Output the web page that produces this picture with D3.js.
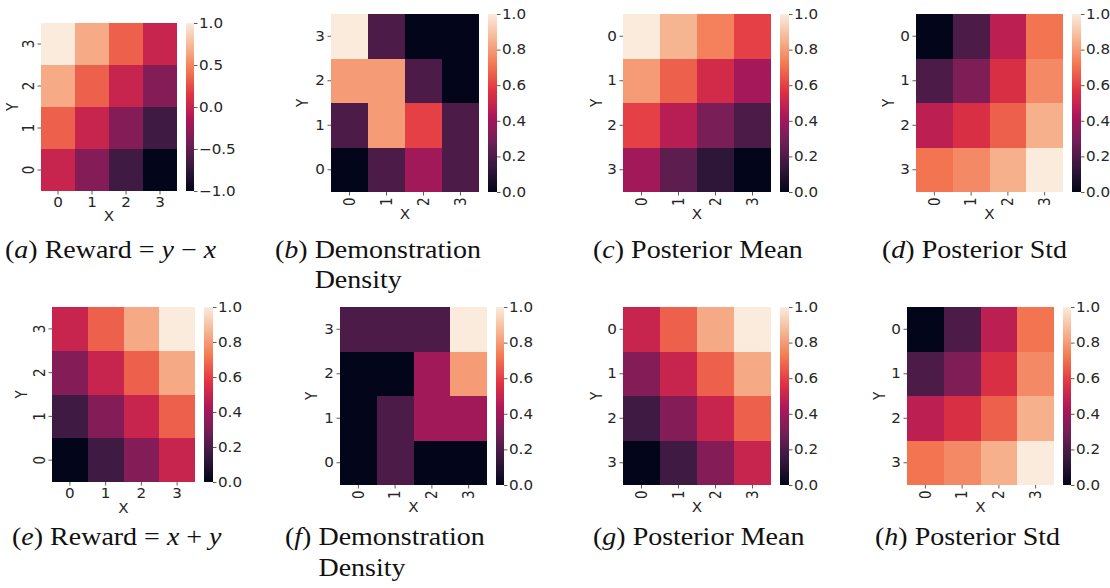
<!DOCTYPE html>
<html><head><meta charset="utf-8">
<script src="https://cdn.jsdelivr.net/npm/d3@7"></script>
<style>
html,body{margin:0;padding:0;background:#fff;}
svg{display:block;}
.tick text{font-family:"DejaVu Sans",sans-serif;font-size:13.5px;fill:#262626;}
.axlab{font-family:"DejaVu Sans",sans-serif;font-size:13.5px;fill:#262626;}
.cap{font-family:"Liberation Serif",serif;font-size:25px;fill:#111;}
</style></head>
<body><svg id="chart" width="1110" height="588"></svg>
<script>
// ---------- data ----------
const xLabels = ["0","1","2","3"];
const rowsUp = ["3","2","1","0"];     // Y labels top->bottom (3 at top)
const rowsDown = ["0","1","2","3"];   // Y labels top->bottom (0 at top)
const ticksSigned = [-1,-0.5,0,0.5,1];
const ticksUnit = [0,0.2,0.4,0.6,0.8,1.0];

// rows listed top -> bottom as displayed
const rewardYminusX = [
  [1.0, 0.667, 0.333, 0.0],
  [0.667, 0.333, 0.0, -0.333],
  [0.333, 0.0, -0.333, -0.667],
  [0.0, -0.333, -0.667, -1.0]
];
const demoDensityB = [
  [1.0, 0.2, 0.0, 0.0],
  [0.8, 0.8, 0.2, 0.0],
  [0.2, 0.8, 0.6, 0.2],
  [0.0, 0.2, 0.4, 0.2]
];
const postMeanC = [
  [1.0, 0.86, 0.74, 0.6],
  [0.8, 0.67, 0.53, 0.41],
  [0.6, 0.46, 0.31, 0.2],
  [0.4, 0.24, 0.12, 0.0]
];
const postStdD = [
  [0.0, 0.2, 0.47, 0.71],
  [0.2, 0.32, 0.55, 0.76],
  [0.47, 0.55, 0.67, 0.85],
  [0.71, 0.76, 0.85, 1.0]
];
const rewardXplusY = [
  [0.5, 0.667, 0.833, 1.0],
  [0.333, 0.5, 0.667, 0.833],
  [0.167, 0.333, 0.5, 0.667],
  [0.0, 0.167, 0.333, 0.5]
];
const demoDensityF = [
  [0.2, 0.2, 0.2, 1.0],
  [0.0, 0.0, 0.4, 0.8],
  [0.0, 0.2, 0.4, 0.4],
  [0.0, 0.2, 0.0, 0.0]
];
const postMeanG = [
  [0.5, 0.667, 0.833, 1.0],
  [0.333, 0.5, 0.667, 0.833],
  [0.167, 0.333, 0.5, 0.667],
  [0.0, 0.167, 0.333, 0.5]
];
const postStdH = [
  [0.0, 0.2, 0.47, 0.71],
  [0.2, 0.32, 0.55, 0.76],
  [0.47, 0.55, 0.67, 0.85],
  [0.71, 0.76, 0.85, 1.0]
];

// rocket colormap stops
const rocketStops = ["#03051a","#35193e","#701f57","#ad1759","#e13342","#f37651","#f6b48f","#faebdd"];

// captions: [text, italic?] parts
const captions = [
  {line1:[["(",0],["a",1],[") Reward = ",0],["y",1],[" − ",0],["x",1]]},
  {line1:[["(",0],["b",1],[") ",0],["Demonstration",0]], line2:"Density"},
  {line1:[["(",0],["c",1],[") Posterior Mean",0]]},
  {line1:[["(",0],["d",1],[") Posterior Std",0]]},
  {line1:[["(",0],["e",1],[") Reward = ",0],["x",1],[" + ",0],["y",1]]},
  {line1:[["(",0],["f",1],[") ",0],["Demonstration",0]], line2:"Density"},
  {line1:[["(",0],["g",1],[") Posterior Mean",0]]},
  {line1:[["(",0],["h",1],[") Posterior Std",0]]}
];

// ---------- layout ----------
const SX = 1.12; // horizontal text stretch seen in the reference
const panels = [
  {data:rewardYminusX, rows:rowsUp, dom:[-1,1], ticks:ticksSigned, style:"A",
   hm:[41,177,23,191], cb:[186,194], ylab:-28, xlab:25, cap:[5,258,288]},
  {data:demoDensityB, rows:rowsUp, dom:[0,1], ticks:ticksUnit, style:"B",
   hm:[331,479,14,192], cb:[488,497], ylab:-28, xlab:22, cap:[275,258,288]},
  {data:postMeanC, rows:rowsDown, dom:[0,1], ticks:ticksUnit, style:"B",
   hm:[623,771,14,192], cb:[780,789], ylab:-26, xlab:22, cap:[593,258]},
  {data:postStdD, rows:rowsDown, dom:[0,1], ticks:ticksUnit, style:"B",
   hm:[916,1063,14,192], cb:[1072,1081], ylab:-27, xlab:22, cap:[882,258]},
  {data:rewardXplusY, rows:rowsUp, dom:[0,1], ticks:ticksUnit, style:"A",
   hm:[52,195,307,482], cb:[204,213], ylab:-30, xlab:26, cap:[12,545]},
  {data:demoDensityF, rows:rowsUp, dom:[0,1], ticks:ticksUnit, style:"B",
   hm:[340,487,307,485], cb:[496,504], ylab:-28, xlab:22, cap:[285,545,576]},
  {data:postMeanG, rows:rowsDown, dom:[0,1], ticks:ticksUnit, style:"B",
   hm:[623,771,307,485], cb:[780,789], ylab:-26, xlab:22, cap:[593,545]},
  {data:postStdH, rows:rowsDown, dom:[0,1], ticks:ticksUnit, style:"B",
   hm:[907,1054,307,485], cb:[1063,1071], ylab:-27, xlab:22, cap:[875,545]}
];

const svg = d3.select("#chart");
const defs = svg.append("defs");

function cmapFor(dom){
  const n = rocketStops.length;
  return d3.scaleLinear()
    .domain(d3.range(n).map(i => dom[0] + (dom[1]-dom[0])*i/(n-1)))
    .range(rocketStops).interpolate(d3.interpolateRgb).clamp(true);
}

const grad = defs.append("linearGradient").attr("id","rocketGrad")
  .attr("x1",0).attr("y1",1).attr("x2",0).attr("y2",0);
rocketStops.forEach((c,i)=>grad.append("stop").attr("offset", i/(rocketStops.length-1)).attr("stop-color", c));

const tickColor = "#333";

// move a text's x into a transform with a horizontal stretch
function stretchX(sel, extra){
  sel.each(function(){
    const t = d3.select(this);
    const x = +(t.attr("x") || 0);
    t.attr("x", null).attr("transform", `translate(${x},0) scale(${SX},1)` + (extra || ""));
  });
}

panels.forEach((p, idx) => {
  const [x0,x1,y0,y1] = p.hm;
  const g = svg.append("g");
  const color = cmapFor(p.dom);
  const xs = d3.scaleBand().domain(xLabels).range([x0,x1]);
  const ys = d3.scaleBand().domain(p.rows).range([y0,y1]);
  const cells = [];
  p.data.forEach((row, ri) => row.forEach((v, ci) => cells.push({r:p.rows[ri], c:xLabels[ci], v})));
  g.selectAll("rect.cell").data(cells).join("rect").attr("class","cell")
    .attr("x", d => xs(d.c)).attr("y", d => ys(d.r))
    .attr("width", xs.bandwidth()+0.3).attr("height", ys.bandwidth()+0.3)
    .attr("fill", d => color(d.v)).attr("shape-rendering","crispEdges");

  const gx = g.append("g").attr("transform", `translate(0,${y1})`)
    .call(d3.axisBottom(xs).tickSize(3.5).tickPadding(2.5));
  const gy = g.append("g").attr("transform", `translate(${x0},0)`)
    .call(d3.axisLeft(ys).tickSize(3.5).tickPadding(2.5));
  [gx, gy].forEach(a => { a.select(".domain").remove(); a.selectAll("line").attr("stroke", tickColor).attr("stroke-width",0.8); a.attr("font-family",null).attr("font-size",null); });

  if (p.style === "A") {
    gy.selectAll("text").attr("x",null).attr("dy","0.35em").attr("text-anchor","middle")
      .attr("transform",`translate(-12,0) scale(${SX},1) rotate(-90)`);
    stretchX(gx.selectAll("text"));
  } else {
    gx.selectAll("text").attr("y",null).attr("dy","0.35em").attr("text-anchor","end")
      .attr("transform",`translate(0,5.5) scale(${SX},1) rotate(-90)`);
    stretchX(gy.selectAll("text"));
  }

  g.append("text").attr("class","axlab")
    .attr("transform",`translate(${(x0+x1)/2},${y1 + p.xlab}) scale(${SX},1)`)
    .attr("dy","0.35em").attr("text-anchor","middle").text("X");
  g.append("text").attr("class","axlab")
    .attr("transform",`translate(${x0 + p.ylab},${(y0+y1)/2}) scale(${SX},1) rotate(-90)`)
    .attr("dy","0.35em").attr("text-anchor","middle").text("Y");

  const [c0,c1] = p.cb;
  g.append("rect").attr("x",c0).attr("y",y0).attr("width",c1-c0).attr("height",y1-y0)
    .attr("fill","url(#rocketGrad)");
  const cs = d3.scaleLinear().domain(p.dom).range([y1,y0]);
  const gc = g.append("g").attr("transform",`translate(${c1},0)`)
    .call(d3.axisRight(cs).tickValues(p.ticks).tickFormat(d3.format(".1f")).tickSize(3.5).tickPadding(1.5));
  gc.select(".domain").remove();
  gc.selectAll("line").attr("stroke", tickColor).attr("stroke-width",0.8);
  gc.attr("font-family",null).attr("font-size",null);
  stretchX(gc.selectAll("text"));

  // caption
  const cap = captions[idx];
  const cg = svg.append("g").attr("transform",`translate(${p.cap[0]},${p.cap[1]}) scale(${SX},1)`);
  const t = cg.append("text").attr("class","cap").attr("x",0).attr("y",0);
  cap.line1.forEach(([s,it]) => t.append("tspan").attr("font-style", it ? "italic" : null).text(s));
  if (cap.line2) {
    const pre = cap.line1.slice(0, cap.line1.length-1).map(d=>d[0]).join("").length;
    const sx = t.node().getStartPositionOfChar(pre).x;
    cg.append("text").attr("class","cap").attr("x",sx).attr("y",p.cap[2]-p.cap[1]).text(cap.line2);
  }
});
</script>
</body></html>
